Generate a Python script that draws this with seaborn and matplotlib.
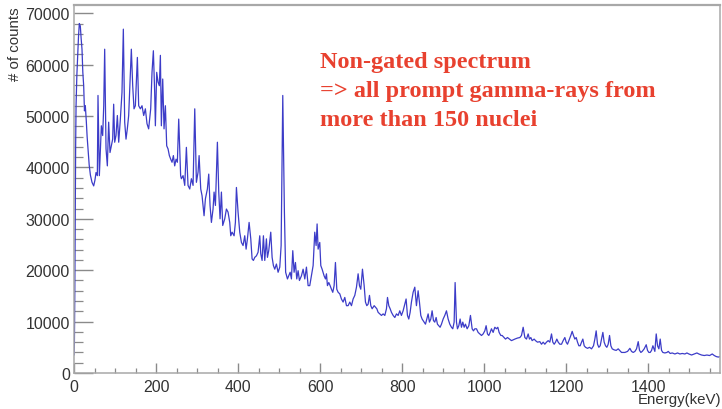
import matplotlib
matplotlib.use("Agg")
import matplotlib.pyplot as plt
import seaborn as sns
import pandas as pd
from matplotlib.ticker import MultipleLocator

# ---- data (energy in keV, counts) ----
energy_kev = [
    0, 1, 2, 3, 4, 5, 7, 9, 11, 13, 15.4, 17.5, 19.5, 21.5, 23.6, 25.5, 27.6, 30, 32, 34.1,
    37, 40, 43.9, 48, 51, 53.7, 56.9, 58.5, 61.8, 64.5, 66.7, 69.9, 72.5, 74.8, 78.1, 81.3,
    84.5, 87.8, 91.1, 94.3, 96.7, 99.2, 102.4, 105.7, 109, 113, 117, 120.3, 123.6, 126.8,
    130, 133.3, 136.6, 139.8, 143.1, 146.3, 149.6, 152.8, 154.5, 157.7, 161.8, 165.8,
    169.9, 174, 178, 182, 187, 190.2, 193.5, 196.7, 198.4, 201.6, 204.9, 208.1, 210.6,
    213, 216.3, 219.5, 222.8, 226, 229.3, 232.5, 235.8, 239, 242.3, 245.5, 248.8, 252,
    255.3, 257.7, 260,
    261.8, 265.9, 270, 274, 278, 282.2, 286.2, 290.3, 294.4, 298.4, 302.5, 305, 309,
    312.2, 317.1, 320.4, 325.2, 328.5, 331.7, 335, 339, 341.5, 344.8, 349.6, 352.9,
    356.1, 359.4, 362.6, 367.5, 371.6, 375.6, 379.7, 382.2, 385.4, 390.3, 393.5, 396,
    400, 404.1, 408.2, 412.2, 416.3, 419.6, 422.8, 426.9, 431, 434.2, 437.4, 440.7,
    444.8, 448.8, 452.9, 455.3, 458.6, 461.8, 465.1, 469.1, 471.6, 474.8, 479.7, 483,
    486.2, 489.5, 493.5, 497.6, 501.7, 505, 509, 513, 516, 520.4,
    524, 527, 530.1, 533.4, 536.6, 539.9, 543.1, 546.4, 549.6, 554.5, 558.6, 562.7,
    566.7, 570.8, 574.8, 578.9, 583, 587, 590.3, 592.7, 595.2, 599.2, 601.7, 604.9,
    609.8, 613.1, 615.5, 617.9, 621.2, 624.4, 627.7, 630.9, 634.2, 637.4, 640.7, 644,
    648, 652, 656.1, 660.2, 664.3, 668.3, 672.4, 676.5, 680.5, 684.6, 688.7, 692.7,
    696, 699.2, 703.3, 707.4, 710.6, 713.9, 717.1, 720.4, 723.6, 726.9, 731.8, 735,
    738.3, 741.5, 745.6, 749.6, 753.7, 757.8, 761.8, 764.3, 767.5, 770.8, 774, 778.1,
    782.2, 786.2, 790.3,
    794.3, 798.3, 802.4, 806.5, 809.7, 813, 816.2, 819.5, 822.7, 826.8, 830.9, 834.9,
    839, 842.2, 845.5, 848.7, 853.6, 856.9, 860.1, 863.4, 866.6, 869.9, 873.1, 876.4,
    879.6, 882.9, 886.1, 889.4, 892.6, 895.9, 900, 904, 908.1, 912.2, 916.2, 920.3,
    923.5, 926.8, 929.2, 932.5, 934.9, 938.2, 941.4, 944.7, 947.9, 951.2, 954.4, 958.5,
    962.6, 966.6, 970.7, 973.9, 977.2, 981.3, 985.3, 989.4, 993.5, 997.5, 1001.6,
    1004.8, 1008.1, 1011.3, 1014.6, 1017.8, 1021.9, 1026, 1030, 1033.3, 1036.5, 1040.6,
    1043.9, 1048.7, 1052, 1056.9,
    1066.6, 1074.8, 1081.3, 1087, 1091, 1095.1, 1099.2, 1103.2, 1107.3, 1110.5, 1113.8,
    1117, 1121.9, 1125.2, 1130, 1135.7, 1139.8, 1143.9, 1147.9, 1152, 1156.1, 1160.1,
    1164.2, 1167.4, 1170.7, 1174, 1177.2, 1180.5, 1184.5, 1188.6, 1192.6, 1196.7, 1200,
    1203.2, 1208.1, 1211.3, 1214.6, 1217.8, 1221.1, 1224.4, 1227.6, 1230.9, 1234.1,
    1237.4, 1240.6, 1243.9, 1247.1, 1252, 1256.9, 1261.8, 1266.6, 1269.9, 1273.1,
    1276.4, 1279.6, 1282.9, 1286.1, 1289.4, 1292.6, 1295.9, 1299.1, 1302.4, 1305.7,
    1308.9, 1312.2, 1317, 1321.9, 1326.8,
    1334.9, 1343.1, 1349.6, 1355.3, 1359.3, 1363.4, 1367.5, 1371.5, 1375.6, 1378.8,
    1382.1, 1385.3, 1390.2, 1395.1, 1398.3, 1401.6, 1404.8, 1408.1, 1411.4, 1416.2,
    1419.5, 1422.7, 1426, 1429.2, 1432.5, 1435.7, 1440.6, 1445.5, 1448.8, 1453.6,
    1458.5, 1465, 1471.5, 1477.2, 1482.9, 1489.4, 1494.3, 1499.2, 1505.7, 1512.2,
    1518.7, 1523.5, 1530, 1536.6, 1543.1, 1549.6, 1556.1, 1561, 1565.8, 1570.7, 1575.6,
]

counts = [
    3500, 6000, 16000, 32000, 44000, 52000, 58000, 62000, 65500, 68000, 67500, 65000, 63000,
    58500, 55900, 51000, 52000, 49000, 46000, 43600, 40500, 38500, 37100, 36400, 37500,
    39000, 38400, 54000, 38400, 44000, 48100, 46200, 52000, 63000, 43600, 40300, 48800,
    42900, 44200, 45500, 52300, 44900, 46200, 50100, 44900, 49400, 54600, 66900, 48800,
    45500, 47500, 50100, 56900, 63000, 55900, 51400, 52000, 57900, 61400, 52000, 51400,
    52000, 50100, 51400, 48500, 47500, 51400, 58500, 62700, 54600, 48100, 58500, 56600,
    55900, 61800, 48100, 57200, 47500, 52000, 44200, 43600, 42300, 41600, 41000, 42300,
    40300, 41600, 41000, 49400, 43600, 38400,
    37800, 38400, 36500, 43900, 36500, 35800, 37800, 36500, 51400, 37100, 39100, 42300,
    35800, 34500, 30600, 33900, 35800, 38700, 32600, 29300, 31900, 35200, 32600, 44900,
    35200, 30000, 35200, 28700, 30000, 31900, 31300, 29300, 26700, 27400, 26700, 29300,
    36100, 31300, 27400, 25400, 24800, 26700, 24100, 26100, 29300, 26100, 22200, 21900,
    22500, 22800, 23500, 26700, 23200, 21900, 26700, 21900, 26100, 22500, 23800, 27400,
    22500, 20900, 20200, 21200, 19600, 20600, 24800, 54000, 31300, 19600, 18300,
    19000, 19600, 18300, 23800, 19600, 21500, 18300, 19900, 18000, 18900, 20200, 18300,
    20600, 17000, 17000, 18900, 20900, 27400, 24800, 29000, 24100, 25400, 20900, 20200,
    18900, 18300, 19300, 17000, 17600, 17000, 16300, 15700, 17000, 21500, 16300, 15700,
    15400, 14400, 13800, 14700, 13100, 13100, 13800, 13100, 14400, 15100, 16700, 19300,
    17000, 16300, 20200, 17000, 13800, 13100, 13400, 15100, 13100, 12500, 13100, 12800,
    12500, 11800, 11500, 11200, 11500, 11200, 12500, 14700, 13100, 12500, 11800, 11200,
    10800, 11500, 11200,
    12100, 11200, 12100, 13400, 14400, 11200, 10500, 11800, 13800, 15700, 16700, 13100,
    16000, 13800, 11200, 10500, 9900, 9500, 10500, 11500, 9900, 10500, 12100, 10200,
    9900, 10800, 9500, 9200, 8900, 9500, 10500, 11200, 12100, 10500, 9500, 8900,
    8600, 9900, 17600, 9900, 8600, 9200, 10500, 8900, 9900, 8900, 9500, 8600,
    9200, 11200, 8600, 8200, 8600, 8600, 7900, 7600, 7300, 7600, 8200,
    9200, 7600, 7300, 7900, 8600, 7900, 8900, 8600, 8900, 7900, 7300,
    7300, 6900, 6600, 6900,
    6300, 6600, 6800, 6900, 7300, 8900, 6900, 6600, 7600, 6600, 6900,
    6300, 6600, 6300, 6000, 6100, 5600, 6000, 5600, 6000, 6300, 6000,
    7600, 6000, 5600, 6000, 6600, 6000, 5600, 5600, 6300, 6900, 6000,
    5600, 6600, 7300, 8100, 7300, 6600, 6900, 6000, 5300, 5300,
    6000, 6600, 5300, 5000, 4800, 5000, 4700, 5300, 6600, 8200,
    5600, 5000, 5300, 6600, 7900, 6000, 5300, 5000, 5600, 7300,
    5300, 4700, 4500, 4400, 4700,
    4000, 4000, 4200, 4800, 4200, 4000, 4200, 4700, 6100, 4400,
    4000, 4200, 4700, 5500, 4400, 4000, 4000, 4400, 5300, 4200,
    7600, 5300, 4700, 6600, 4400, 4000, 3900, 4000, 4200, 3800,
    3900, 3700, 3900, 3700, 3800, 3700, 3900, 3700, 3500, 3700,
    3900, 3700, 3500, 3400, 3500, 3400, 3700, 3400, 3200, 3100, 3200,
]

x_ticks = [0, 200, 400, 600, 800, 1000, 1200, 1400]
y_ticks = [0, 10000, 20000, 30000, 40000, 50000, 60000, 70000]
note_lines = ["Non-gated spectrum", "=> all prompt gamma-rays from", "more than 150 nuclei"]

sns.set_theme(style="ticks")
plt.rcParams['font.family'] = ['Liberation Sans', 'DejaVu Sans']

fig = plt.figure(figsize=(7.22, 4.10), dpi=100)
ax = fig.add_axes([74 / 722, 36 / 410, 646 / 722, 368 / 410])

df = pd.DataFrame({"energy": energy_kev, "counts": counts})
sns.lineplot(data=df, x="energy", y="counts", ax=ax, color="#3c3cc8",
             linewidth=0.9, estimator=None, sort=False)

ax.set_xlim(0, 1575)
ax.set_ylim(0, 71600)
ax.set_xlabel("")
ax.set_ylabel("")

ax.set_xticks(x_ticks)
ax.set_xticklabels([str(v) for v in x_ticks])
ax.set_yticks(y_ticks)
ax.set_yticklabels([str(v) for v in y_ticks])
ax.xaxis.set_minor_locator(MultipleLocator(50))
ax.yaxis.set_minor_locator(MultipleLocator(2000))

tick_col = "#8a8a8a"
ax.tick_params(axis='y', which='major', direction='in', length=13.5, width=1.0,
               color=tick_col, pad=3, labelsize=11.4, labelcolor="#333333",
               left=True, right=False)
ax.tick_params(axis='y', which='minor', direction='in', length=6.5, width=0.9,
               color=tick_col, left=True, right=False)
ax.tick_params(axis='x', which='major', direction='in', length=7.2, width=1.0,
               color=tick_col, pad=4, labelsize=11.4, labelcolor="#333333",
               bottom=True, top=False)
ax.tick_params(axis='x', which='minor', direction='in', length=3.6, width=0.9,
               color=tick_col, bottom=True, top=False)

for side in ["left", "bottom", "right", "top"]:
    ax.spines[side].set_visible(True)
    ax.spines[side].set_color("#a8a8a8")
    ax.spines[side].set_linewidth(1.1)
ax.spines["top"].set_linewidth(1.6)

fig.text(15 / 722, 1 - 7 / 410, "# of counts", rotation=90, ha='center', va='top',
         fontsize=10.8, color="#333333")
fig.text(721 / 722, 1 - 400 / 410, "Energy(keV)", ha='right', va='center',
         fontsize=10.8, color="#333333")

baselines = [68, 97, 126]
for line, yb in zip(note_lines, baselines):
    fig.text(320 / 722, 1 - yb / 410, line, ha='left', va='baseline',
             fontsize=17.5, fontweight='bold', color="#e8412f",
             family=['Liberation Serif', 'DejaVu Serif'])

fig.savefig("out.png", dpi=100)
